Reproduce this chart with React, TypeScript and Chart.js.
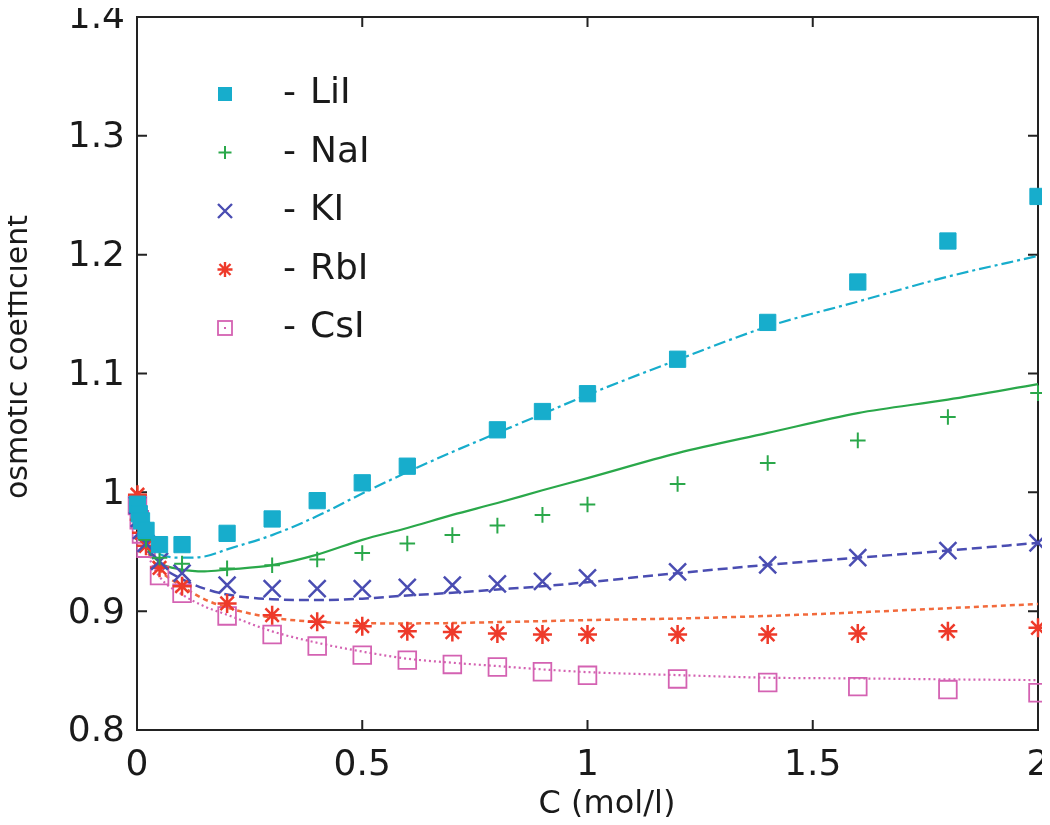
import React, { useEffect, useRef } from 'react';
import { Chart, registerables } from 'chart.js';

Chart.register(...registerables);

// ---- data ----
const expC = [0.001, 0.005, 0.01, 0.02, 0.05, 0.1, 0.2, 0.3, 0.4, 0.5, 0.6, 0.7, 0.8, 0.9, 1.0, 1.2, 1.4, 1.6, 1.8, 2.0];
const liiExp = [0.990, 0.982, 0.976, 0.968, 0.956, 0.956, 0.9655, 0.9776, 0.993, 1.008, 1.022, null, 1.0526, 1.068, 1.083, 1.112, 1.143, 1.177, 1.2115, 1.249];
const naiExp = [0.989, 0.979, 0.970, 0.960, 0.945, 0.940, 0.936, 0.9387, 0.9435, 0.949, 0.957, 0.964, 0.972, 0.981, 0.9897, 1.007, 1.0247, 1.0437, 1.0634, 1.0835];
const kiExp = [0.989, 0.978, 0.968, 0.957, 0.942, 0.932, 0.922, 0.919, 0.919, 0.919, 0.920, 0.922, 0.923, 0.925, 0.928, 0.933, 0.939, 0.945, 0.951, 0.9575];
const rbiExp = [0.998, 0.977, 0.966, 0.955, 0.9365, 0.921, 0.9065, 0.8966, 0.891, 0.8874, 0.8832, 0.8824, 0.8813, 0.8804, 0.8804, 0.8804, 0.8804, 0.8813, 0.8832, 0.886];
const csiExp = [0.989, 0.977, 0.965, 0.953, 0.930, 0.915, 0.896, 0.8804, 0.8706, 0.863, 0.8588, 0.8552, 0.853, 0.849, 0.846, 0.843, 0.840, 0.8365, 0.834, 0.8314];

const fitC = [0, 0.001, 0.005, 0.01, 0.02, 0.05, 0.1, 0.15, 0.2, 0.3, 0.4, 0.5, 0.6, 0.7, 0.8, 0.9, 1.0, 1.2, 1.4, 1.6, 1.8, 2.0];
const liiFit = [1.0, 0.987, 0.975, 0.967, 0.958, 0.948, 0.945, 0.946, 0.952, 0.964, 0.980, 0.999, 1.017, 1.034, 1.050, 1.066, 1.082, 1.1115, 1.1395, 1.1605, 1.1815, 1.199];
const naiFit = [1.0, 0.987, 0.974, 0.965, 0.955, 0.941, 0.935, 0.9335, 0.935, 0.9387, 0.9476, 0.960, 0.970, 0.981, 0.991, 1.0017, 1.012, 1.033, 1.050, 1.0667, 1.078, 1.091];
const kiFit = [1.0, 0.987, 0.974, 0.965, 0.954, 0.939, 0.927, 0.919, 0.914, 0.910, 0.9093, 0.9105, 0.9132, 0.9155, 0.9182, 0.921, 0.9244, 0.932, 0.939, 0.945, 0.951, 0.9575];
const rbiFit = [1.0, 0.987, 0.974, 0.964, 0.953, 0.935, 0.921, 0.910, 0.903, 0.8945, 0.891, 0.8898, 0.8897, 0.890, 0.8908, 0.8916, 0.8925, 0.8938, 0.896, 0.899, 0.9025, 0.906];
const csiFit = [1.0, 0.987, 0.973, 0.963, 0.951, 0.929, 0.914, 0.904, 0.897, 0.883, 0.8734, 0.866, 0.860, 0.8566, 0.8538, 0.851, 0.8487, 0.8462, 0.844, 0.8434, 0.8426, 0.842];

const seriesNames = ['LiI', 'NaI', 'KI', 'RbI', 'CsI'];
const xTicks = [0, 0.5, 1, 1.5, 2];
const yTicks = [0.8, 0.9, 1, 1.1, 1.2, 1.3, 1.4];
const xTitle = 'C (mol/l)';
const yTitle = 'osmotic coefficient';

const COLORS = {
  lii: '#17adcc',
  nai: '#2aa84a',
  ki: '#4a4db2',
  rbi: '#ee3a2a',
  rbiLine: '#f26a3c',
  csi: '#d462b2',
};

const FONT = "'DejaVu Sans', sans-serif";
const TEXT = '#1a1a1a';

const toPts = (xs: number[], ys: (number | null)[]) =>
  xs.map((x, i) => ({ x, y: ys[i] })).filter((p) => p.y !== null);

const fmt = (v: number) => String(Number(Number(v).toFixed(1)));

const noPad = (s: any) => {
  s.paddingTop = 0;
  s.paddingBottom = 0;
  s.paddingLeft = 0;
  s.paddingRight = 0;
};

const framePlugin = {
  id: 'gnuframe',
  beforeDatasetsDraw(chart: any) {
    const { ctx, chartArea: a, scales } = chart;
    ctx.save();
    ctx.strokeStyle = '#222';
    ctx.lineWidth = 2;
    ctx.strokeRect(a.left, a.top, a.right - a.left, a.bottom - a.top);
    const tl = 10;
    ctx.beginPath();
    xTicks.forEach((v) => {
      const px = scales.x.getPixelForValue(v);
      if (px <= a.left + 1 || px >= a.right - 1) return;
      ctx.moveTo(px, a.bottom);
      ctx.lineTo(px, a.bottom - tl);
      ctx.moveTo(px, a.top);
      ctx.lineTo(px, a.top + tl);
    });
    yTicks.forEach((v) => {
      const py = scales.y.getPixelForValue(v);
      if (py <= a.top + 1 || py >= a.bottom - 1) return;
      ctx.moveTo(a.left, py);
      ctx.lineTo(a.left + tl, py);
      ctx.moveTo(a.right, py);
      ctx.lineTo(a.right - tl, py);
    });
    ctx.stroke();
    ctx.restore();
  },
  afterDraw(chart: any) {
    const { ctx, chartArea: a } = chart;
    ctx.save();
    // axis titles
    ctx.fillStyle = TEXT;
    ctx.textAlign = 'center';
    ctx.textBaseline = 'middle';
    ctx.font = `32px ${FONT}`;
    ctx.fillText(xTitle, a.left + 470, a.bottom + 75);
    ctx.save();
    ctx.translate(19, a.top + 340);
    ctx.rotate(-Math.PI / 2);
    ctx.font = `30px ${FONT}`;
    ctx.fillText(yTitle, 0, 0);
    ctx.restore();

    // legend
    const mx = a.left + 88;
    const dashX = a.left + 146;
    const tx = a.left + 173;
    const colors = [COLORS.lii, COLORS.nai, COLORS.ki, COLORS.rbi, COLORS.csi];
    seriesNames.forEach((name, i) => {
      const y = a.top + 77 + i * 58.5;
      const c = colors[i];
      ctx.strokeStyle = c;
      ctx.fillStyle = c;
      ctx.beginPath();
      if (i === 0) {
        ctx.fillRect(mx - 7, y - 7, 14, 14);
      } else if (i === 1) {
        ctx.lineWidth = 2;
        ctx.moveTo(mx - 6.5, y); ctx.lineTo(mx + 6.5, y);
        ctx.moveTo(mx, y - 6.5); ctx.lineTo(mx, y + 6.5);
        ctx.stroke();
      } else if (i === 2) {
        ctx.lineWidth = 2.4;
        ctx.moveTo(mx - 7, y - 7); ctx.lineTo(mx + 7, y + 7);
        ctx.moveTo(mx - 7, y + 7); ctx.lineTo(mx + 7, y - 7);
        ctx.stroke();
      } else if (i === 3) {
        ctx.lineWidth = 2.4;
        ctx.moveTo(mx - 7.5, y); ctx.lineTo(mx + 7.5, y);
        ctx.moveTo(mx, y - 7.5); ctx.lineTo(mx, y + 7.5);
        ctx.moveTo(mx - 5.5, y - 5.5); ctx.lineTo(mx + 5.5, y + 5.5);
        ctx.moveTo(mx - 5.5, y + 5.5); ctx.lineTo(mx + 5.5, y - 5.5);
        ctx.stroke();
      } else {
        ctx.lineWidth = 1.8;
        ctx.strokeRect(mx - 7, y - 7, 14, 14);
        ctx.fillRect(mx - 1, y - 1, 2, 2);
      }
      ctx.fillStyle = TEXT;
      ctx.font = `36px ${FONT}`;
      ctx.textBaseline = 'middle';
      ctx.textAlign = 'left';
      ctx.fillText('-', dashX, y);
      ctx.fillText(name, tx, y);
    });
    ctx.restore();
  },
};

export default function App() {
  const ref = useRef<HTMLCanvasElement | null>(null);

  useEffect(() => {
    if (!ref.current) return;
    const lineDs = (label: string, ys: number[], color: string, dash: number[], width: number) => ({
      type: 'line',
      label,
      data: toPts(fitC, ys),
      borderColor: color,
      backgroundColor: color,
      borderWidth: width,
      borderDash: dash,
      pointRadius: 0,
      showLine: true,
      fill: false,
      cubicInterpolationMode: 'monotone',
      clip: false,
      order: 10,
    });
    const markDs = (label: string, ys: (number | null)[], color: string, style: string, r: number, bw: number, fillC: string) => ({
      type: 'scatter',
      label,
      data: toPts(expC, ys),
      borderColor: color,
      backgroundColor: fillC,
      pointStyle: style,
      pointRadius: r,
      pointBorderWidth: bw,
      borderWidth: bw,
      showLine: false,
      clip: false,
      order: 1,
    });

    const chart = new Chart(ref.current, {
      type: 'scatter',
      data: {
        datasets: [
          lineDs('LiI fit', liiFit, COLORS.lii, [12, 4, 3, 4], 2.2),
          lineDs('NaI fit', naiFit, COLORS.nai, [], 2.2),
          lineDs('KI fit', kiFit, COLORS.ki, [10, 5], 2.5),
          lineDs('RbI fit', rbiFit, COLORS.rbiLine, [5, 4], 2.5),
          lineDs('CsI fit', csiFit, COLORS.csi, [2, 3], 2.2),
          markDs('LiI', liiExp, COLORS.lii, 'rect', 11.5, 1, COLORS.lii),
          markDs('NaI', naiExp, COLORS.nai, 'cross', 7.8, 2, COLORS.nai),
          markDs('KI', kiExp, COLORS.ki, 'crossRot', 12, 2.5, COLORS.ki),
          markDs('RbI', rbiExp, COLORS.rbi, 'star', 9.5, 2.5, COLORS.rbi),
          markDs('CsI', csiExp, COLORS.csi, 'rect', 12.5, 1.8, 'rgba(0,0,0,0)'),
        ] as any,
      },
      options: {
        animation: false,
        responsive: true,
        maintainAspectRatio: false,
        devicePixelRatio: 1,
        layout: { autoPadding: false, padding: { top: 17, right: 12, left: 0, bottom: 0 } },
        plugins: {
          legend: { display: false },
          tooltip: { enabled: false },
        },
        scales: {
          x: {
            type: 'linear',
            min: 0,
            max: 2,
            afterFit: (s: any) => { s.height = 95; noPad(s); },
            afterBuildTicks: (s: any) => { s.ticks = xTicks.map((v) => ({ value: v })); },
            grid: { display: false, drawTicks: false },
            border: { display: false },
            ticks: {
              callback: (v: any) => fmt(v),
              font: { family: FONT, size: 36 },
              color: TEXT,
              padding: 14,
              maxRotation: 0,
              autoSkip: false,
            },
            title: { display: false },
          },
          y: {
            type: 'linear',
            min: 0.8,
            max: 1.4,
            afterFit: (s: any) => { s.width = 137; noPad(s); },
            afterBuildTicks: (s: any) => { s.ticks = yTicks.map((v) => ({ value: v })); },
            grid: { display: false, drawTicks: false },
            border: { display: false },
            ticks: {
              callback: (v: any) => fmt(v),
              font: { family: FONT, size: 36 },
              color: TEXT,
              padding: 12,
              labelOffset: 2,
              autoSkip: false,
            },
            title: { display: false },
          },
        },
      } as any,
      plugins: [framePlugin],
    });
    return () => chart.destroy();
  }, []);

  return (
    <div style={{ position: 'relative', width: 1050, height: 825, margin: -8 }}>
      <canvas ref={ref} />
    </div>
  );
}
